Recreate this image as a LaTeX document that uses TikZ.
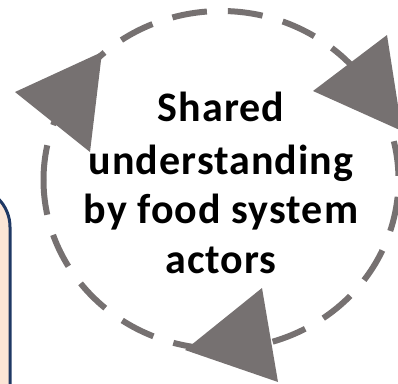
\documentclass[tikz,border=0pt]{standalone}
\usepackage{fontspec}
\setmainfont{Carlito}
\newfontfamily\ringfont{Carlito}[LetterSpace=2.5]
\definecolor{arrowgray}{HTML}{767171}
\definecolor{peach}{HTML}{FBE5D6}
\definecolor{navyline}{HTML}{1F3864}
\begin{document}
\begin{tikzpicture}[x=1pt,y=-1pt,
  ring/.style={draw=arrowgray, line width=6pt, dash pattern=on 35pt off 21pt},
  headfill/.style={fill=arrowgray},
  ctext/.style={font=\ringfont\bfseries\fontsize{42}{50}\selectfont, anchor=base, inner sep=0pt, text=black},
  sidebox/.style={fill=peach, draw=navyline, line width=3pt, rounded corners=40pt}]
\useasboundingbox (0,0) rectangle (398,383);
\clip (0,0) rectangle (398,383);
% partial box at the left
\draw[sidebox] (-100,187) rectangle (10,480);
% ring centre
\coordinate (c) at (221,180);
% dashed arcs
\draw[ring] ([shift={(180:177.5 and 169)}]c) arc[start angle=180, end angle=226, x radius=177.5, y radius=169];
\draw[ring] ([shift={(180:177.5 and 169)}]c) arc[start angle=180, end angle=96, x radius=177.5, y radius=169];
\draw[ring] ([shift={(217.4:177.5 and 169)}]c) arc[start angle=217.4, end angle=335, x radius=177.5, y radius=169];
\draw[ring] ([shift={(327.9:177.5 and 169)}]c) arc[start angle=327.9, end angle=445, x radius=177.5, y radius=169];
% arrowheads
\fill[headfill] (15,92) -- (102,52) -- (90,152) -- cycle;
\fill[headfill] (313,91) -- (387,35) -- (402,131) -- cycle;
\fill[headfill] (185,350) -- (262,288) -- (278,382) -- cycle;
% text
\node[ctext] (t1) at (221,121) {Shared};
\node[ctext] (t2) at (221,174) {understanding};
\node[ctext] (t3) at (221,223) {by food system};
\node[ctext] (t4) at (221,273) {actors};
\end{tikzpicture}
\end{document}
